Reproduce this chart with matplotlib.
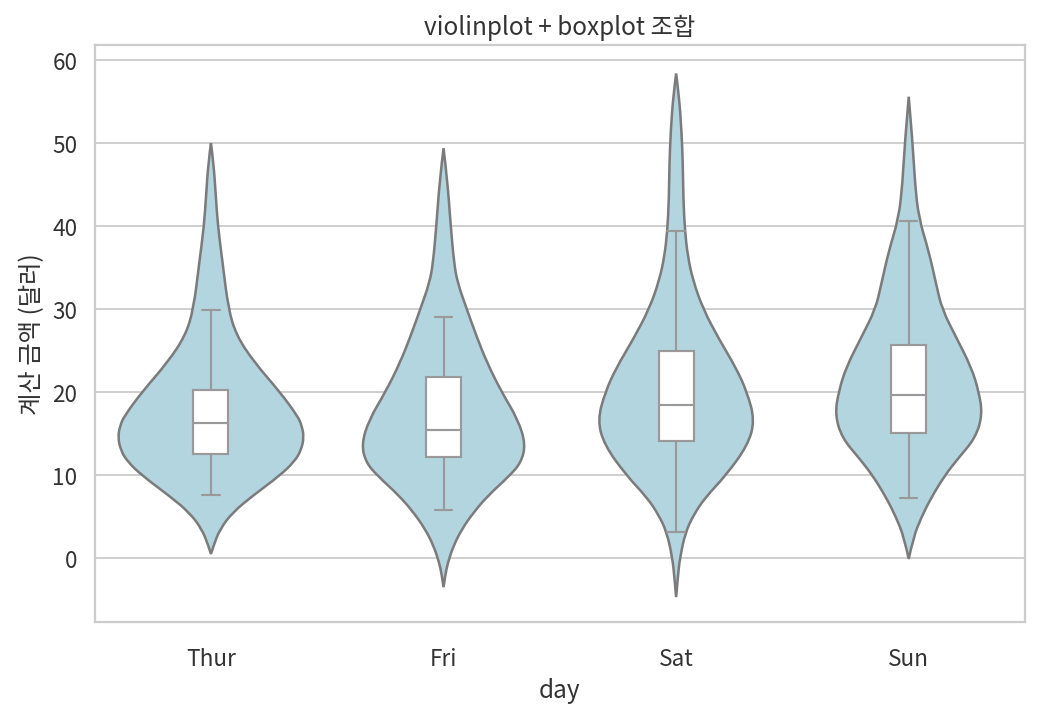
import matplotlib
matplotlib.use('Agg')
import matplotlib.pyplot as plt
from matplotlib.path import Path
from matplotlib.patches import PathPatch
import seaborn as sns

days = ['Thur', 'Fri', 'Sat', 'Sun']

# violin outlines: bill level and half-width
thur_y = [0.5, 1.5, 3.5, 5.5, 7.5, 9.9, 11.6, 13.0, 14.6, 16.0, 17.1, 20.0, 23.6,
          26.8, 30.0, 35.6, 40.0, 43.6, 47.7, 50.0]
thur_w = [0, 0.011, 0.039, 0.093, 0.179, 0.294, 0.358, 0.388, 0.400, 0.390, 0.373,
          0.297, 0.186, 0.110, 0.075, 0.050, 0.030, 0.021, 0.011, 0]

fri_y = [-3.5, -2.1, -0.5, 1.5, 3.5, 5.5, 7.5, 9.9, 11.5, 13.7, 16.7, 20.0, 23.6,
         26.8, 30.0, 33.2, 35.6, 40.0, 45.7, 49.4]
fri_w = [0, 0.007, 0.019, 0.043, 0.079, 0.129, 0.190, 0.283, 0.333, 0.353, 0.320,
         0.250, 0.186, 0.141, 0.100, 0.060, 0.045, 0.031, 0.016, 0]

sat_y = [-4.7, -2.4, 0.0, 3.1, 5.2, 7.3, 10.0, 13.6, 16.6, 20.0, 22.9, 26.3, 30.0,
         33.5, 36.4, 39.4, 43.2, 47.4, 51.6, 55.8, 58.4]
sat_w = [0, 0.007, 0.016, 0.040, 0.075, 0.125, 0.215, 0.308, 0.338, 0.305, 0.258,
         0.186, 0.116, 0.072, 0.050, 0.038, 0.031, 0.029, 0.023, 0.012, 0]

sun_y = [-0.1, 2.5, 4.9, 7.3, 10.0, 12.1, 14.5, 17.3, 20.1, 23.0, 26.6, 30.0, 33.0,
         37.0, 41.0, 45.1, 50.0, 55.6]
sun_w = [0, 0.020, 0.054, 0.097, 0.156, 0.215, 0.287, 0.317, 0.301, 0.269, 0.204,
         0.143, 0.118, 0.086, 0.043, 0.027, 0.017, 0]

# box stats
q1 = [12.6, 12.2, 14.1, 15.1]
med = [16.3, 15.4, 18.4, 19.6]
q3 = [20.2, 21.8, 24.9, 25.7]
whislo = [7.6, 5.8, 3.1, 7.2]
whishi = [29.9, 29.0, 39.4, 40.6]


def violin_path(pos, ys, ws):
    """Closed outline, smoothed with quadratic segments between the read points."""
    right = [(pos + w, y) for y, w in zip(ys, ws)]
    left = [(pos - w, y) for y, w in zip(ys[::-1], ws[::-1])]
    verts, codes = [], []
    for side in (right, left):
        if not verts:
            verts.append(side[0])
            codes.append(Path.MOVETO)
        for k in range(1, len(side) - 1):
            end = side[k + 1] if k == len(side) - 2 else (
                (side[k][0] + side[k + 1][0]) / 2, (side[k][1] + side[k + 1][1]) / 2)
            verts += [side[k], end]
            codes += [Path.CURVE3, Path.CURVE3]
    verts.append(verts[0])
    codes.append(Path.CLOSEPOLY)
    return Path(verts, codes)


sns.set_theme(style='whitegrid')
plt.rcParams['font.family'] = ['Noto Sans CJK KR', 'DejaVu Sans']

fig, ax = plt.subplots(figsize=(8, 5.49), dpi=130)
fig.subplots_adjust(left=0.091, right=0.9856, top=0.9356, bottom=0.1275)

outlines = [(thur_y, thur_w), (fri_y, fri_w), (sat_y, sat_w), (sun_y, sun_w)]
for i, (ys, ws) in enumerate(outlines):
    ax.add_patch(PathPatch(violin_path(i, ys, ws), facecolor='#b3d5e0',
                           edgecolor='#7b7b7b', linewidth=1.4, zorder=2))

stats = [dict(q1=a, med=b, q3=c, whislo=d, whishi=e)
         for a, b, c, d, e in zip(q1, med, q3, whislo, whishi)]
box_line = dict(color='#999999', linewidth=1.2)
ax.bxp(stats, positions=range(len(days)), widths=0.15, patch_artist=True,
       showfliers=False,
       boxprops=dict(facecolor='white', edgecolor='#999999', linewidth=1.2),
       medianprops=box_line, whiskerprops=box_line, capprops=box_line,
       zorder=3)

ax.set_xlim(-0.5, 3.5)
ax.set_ylim(-7.7, 61.8)
ax.set_xticks(range(len(days)))
ax.set_xticklabels(days)
ax.set_yticks([0, 10, 20, 30, 40, 50, 60])
ax.tick_params(labelsize=12.5, colors='#333333')
ax.tick_params(axis='x', pad=8)
ax.xaxis.grid(False)
ax.set_axisbelow(True)

ax.set_title('violinplot + boxplot 조합', fontsize=13.5, color='#333333')
ax.set_xlabel('day', fontsize=13.5, color='#333333')
ax.set_ylabel('계산 금액 (달러)', fontsize=13.5, color='#333333')

plt.savefig('out.png')
